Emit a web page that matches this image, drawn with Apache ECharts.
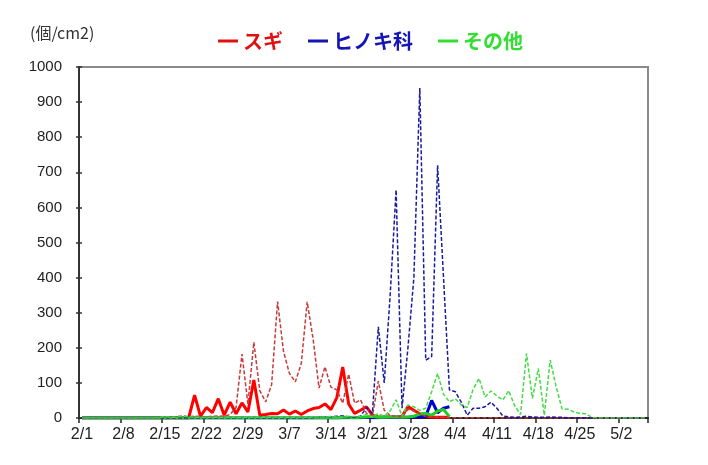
<!DOCTYPE html>
<html>
<head>
<meta charset="utf-8">
<script src="https://cdn.jsdelivr.net/npm/echarts@6/dist/echarts.min.js"></script>
<style>
html,body{margin:0;padding:0;background:#fff;}
#chart{width:708px;height:465px;}
</style>
</head>
<body>
<div id="chart"></div>
<script>
// Category labels: daily dates 2/1 .. 5/6 (2024, leap year)
const dates = [];
for (let i = 0; i < 96; i++) {
  const d = new Date(2024, 1, 1 + i);
  dates.push((d.getMonth() + 1) + '/' + d.getDate());
}

const seriesNames = ['スギ', 'ヒノキ科', 'その他'];
const yTicks = [0, 100, 200, 300, 400, 500, 600, 700, 800, 900, 1000];

// This year (solid), 2/1 .. 4/3
const sugiNow = [
  0,0,0,0,0,0,0,0,0,0,
  0,0,0,0,0,0,0,0,0,65,
  5,30,15,55,8,45,12,43,17,108,
  8,10,13,12,23,11,20,10,20,27,
  30,40,24,58,145,40,13,22,32,8,
  3,3,2,2,5,33,22,12,5,3,
  2,2,2
];
const hinokiNow = [
  0,0,0,0,0,0,0,0,0,0,
  0,0,0,0,0,0,0,0,0,0,
  0,0,0,0,0,0,0,0,0,0,
  0,0,0,0,0,0,0,0,0,0,
  0,0,0,0,1,1,1,1,2,1,
  1,2,2,2,2,2,3,3,4,50,
  15,28,32
];
const sonotaNow = [
  0,0,0,0,0,0,0,0,0,0,
  0,0,0,0,1,0,0,1,0,0,
  0,0,0,0,0,0,0,0,0,0,
  0,0,0,0,0,0,0,0,0,0,
  1,1,1,1,2,2,1,2,3,5,
  2,2,3,3,2,3,5,12,13,8,
  20,24,4
];

// Previous year (dashed), 2/1 .. 5/6
const sugiPrev = [
  0,0,0,0,0,0,0,0,0,0,
  0,0,0,1,3,2,4,6,3,5,
  4,3,5,6,5,10,30,182,40,216,
  78,46,95,332,190,127,103,155,331,225,
  85,146,88,80,42,125,42,52,13,5,
  105,22,7,5,3,25,20,12,5,3,
  2,2,1,1,1,1,1,1,1,1,
  1,0,0,0,0,0,0,0,0,0,
  0,0,0,0,0,0,0,0,0,0,
  0,0,0,0,0,0
];
const hinokiPrev = [
  0,0,0,0,0,0,0,0,0,0,
  0,0,0,0,0,0,0,0,0,0,
  0,0,0,0,0,0,0,0,0,0,
  0,0,0,0,0,0,0,0,0,1,
  2,3,3,5,6,3,2,5,30,13,
  260,100,350,650,28,200,400,940,165,175,
  720,400,80,75,45,8,28,28,32,45,
  28,6,3,2,3,5,3,2,2,3,
  2,2,1,1,1,1,0,0,0,0,
  0,0,0,0,0,0
];
const sonotaPrev = [
  0,0,0,0,0,0,0,0,0,0,
  0,0,0,1,4,2,2,5,3,2,
  2,1,2,2,1,2,2,1,2,2,
  2,2,2,2,2,2,2,2,2,3,
  3,3,4,3,3,4,4,5,10,3,
  13,5,20,52,5,37,32,22,28,75,
  127,68,46,55,37,30,82,113,60,77,
  63,51,78,35,10,184,56,141,8,165,
  89,26,25,17,13,12,2,0,0,0,
  0,0,0,0,0,0
];

const chart = echarts.init(document.getElementById('chart'), null, {renderer: 'canvas'});
const FONT = '"Liberation Sans", Arial, sans-serif';
const JFONT = '"Noto Sans CJK JP", "Noto Sans", sans-serif';

function line(name, data, color, width, dashed, z) {
  return {
    name: name, type: 'line', data: data, xAxisIndex: 0, yAxisIndex: 0,
    showSymbol: false, symbol: 'none', connectNulls: false, z: z,
    lineStyle: {color: color, width: width, type: dashed ? [4, 2] : 'solid'},
    itemStyle: {color: color},
    emphasis: {disabled: true}
  };
}

const option = {
  animation: false,
  backgroundColor: '#ffffff',
  title: {
    text: '(個/cm2)', left: 25, top: 20,
    textStyle: {fontSize: 16, fontWeight: 'normal', color: '#333', fontFamily: JFONT}
  },
  legend: {
    left: 213, top: 26, icon: 'rect', itemWidth: 20, itemHeight: 3, itemGap: 25,
    selectedMode: false,
    textStyle: {fontSize: 20, fontWeight: 'bold', fontFamily: JFONT},
    data: [
      {name: seriesNames[0], itemStyle: {color: '#e01010'}, textStyle: {color: '#e01010'}},
      {name: seriesNames[1], itemStyle: {color: '#1515b5'}, textStyle: {color: '#1515b5'}},
      {name: seriesNames[2], itemStyle: {color: '#33dd33'}, textStyle: {color: '#33dd33'}}
    ]
  },
  grid: {
    left: 79, right: 60, top: 67, bottom: 47, containLabel: false,
    show: true, borderColor: '#8a8a8a', borderWidth: 2, backgroundColor: 'transparent'
  },
  xAxis: {
    type: 'category', data: dates, boundaryGap: true,
    axisLine: {show: true, lineStyle: {color: '#222', width: 2}},
    axisTick: {show: true, interval: 6, length: 5, lineStyle: {color: '#222', width: 1.5}},
    axisLabel: {show: true, interval: 6, fontSize: 16, color: '#222', margin: 9, fontFamily: FONT},
    splitLine: {show: false}
  },
  yAxis: [
    {
      type: 'value', min: yTicks[0], max: yTicks[yTicks.length - 1], interval: 100,
      axisLine: {show: true, lineStyle: {color: '#333', width: 2}},
      axisTick: {show: true, length: 3, lineStyle: {color: '#333', width: 1.5}},
      axisLabel: {fontSize: 15, color: '#222', margin: 17, fontFamily: FONT,
                  formatter: function (v) { return String(v); }},
      splitLine: {show: false}
    },
    {
      type: 'value', position: 'left', min: yTicks[0], max: yTicks[yTicks.length - 1], interval: 100,
      axisLine: {show: false},
      axisTick: {show: true, inside: true, length: 3, lineStyle: {color: '#333', width: 1.5}},
      axisLabel: {show: false},
      splitLine: {show: false}
    }
  ],
  series: [
    line('スギ', sugiNow, '#ff0000', 3, false, 2),
    line('ヒノキ科', hinokiNow, '#0000cc', 3, false, 2),
    line('その他', sonotaNow, '#22cc22', 3, false, 2),
    line('スギ(前年)', sugiPrev, '#c83a3a', 1.5, true, 3),
    line('ヒノキ科(前年)', hinokiPrev, '#1a1a9e', 1.5, true, 3),
    line('その他(前年)', sonotaPrev, '#44dd44', 1.5, true, 3)
  ]
};
chart.setOption(option);
</script>
</body>
</html>
